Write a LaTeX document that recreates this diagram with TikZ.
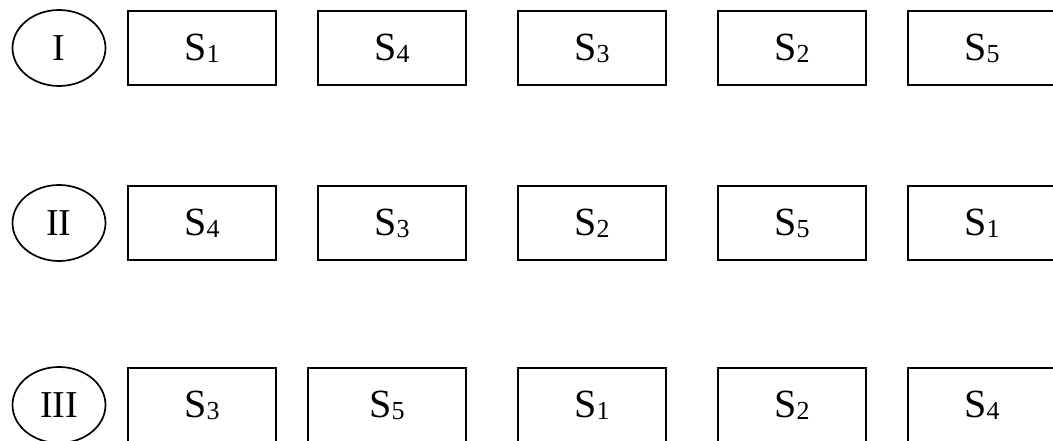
\documentclass[tikz,border=0pt]{standalone}
\usepackage{fontspec}
\setmainfont{Liberation Serif}
\usetikzlibrary{positioning, shapes.geometric}

\newcommand{\slotlab}[1]{S{\fontsize{26}{26}\selectfont\raisebox{-2pt}{#1}}}

\tikzset{
  slotbox/.style={draw, line width=1.7pt, minimum width=148pt, minimum height=74pt,
    inner sep=0pt, font=\fontsize{40}{40}\selectfont},
  roundtag/.style={draw, ellipse, line width=1.7pt, minimum width=93pt, minimum height=76pt,
    inner sep=0pt, font=\fontsize{38}{38}\selectfont},
}

\begin{document}
\begin{tikzpicture}[x=1pt, y=1pt]
  \useasboundingbox (0,0) rectangle (1053,-441);
  % ── row tags ─────────────────────────────────────────────────────────────
  \foreach \r/\y/\lab in {1/48/I, 2/223/II, 3/405/III} {
    \node[roundtag] (tag\r) at (59,-\y) {\lab};
  }
  % ── row I ────────────────────────────────────────────────────────────────
  \foreach \j/\x/\s in {1/202/1, 2/392/4, 3/592/3, 4/792/2, 5/982/5} {
    \node[slotbox] (r1c\j) at (\x,-48) {\slotlab{\s}};
  }
  % ── row II ───────────────────────────────────────────────────────────────
  \foreach \j/\x/\s in {1/202/4, 2/392/3, 3/592/2, 4/792/5, 5/982/1} {
    \node[slotbox] (r2c\j) at (\x,-223) {\slotlab{\s}};
  }
  % ── row III (second box is a little wider) ───────────────────────────────
  \foreach \j/\x/\s in {1/202/3, 3/592/1, 4/792/2, 5/982/4} {
    \node[slotbox] (r3c\j) at (\x,-405) {\slotlab{\s}};
  }
  \node[slotbox, minimum width=158pt] (r3c2) at (387,-405) {\slotlab{5}};
\end{tikzpicture}
\end{document}
